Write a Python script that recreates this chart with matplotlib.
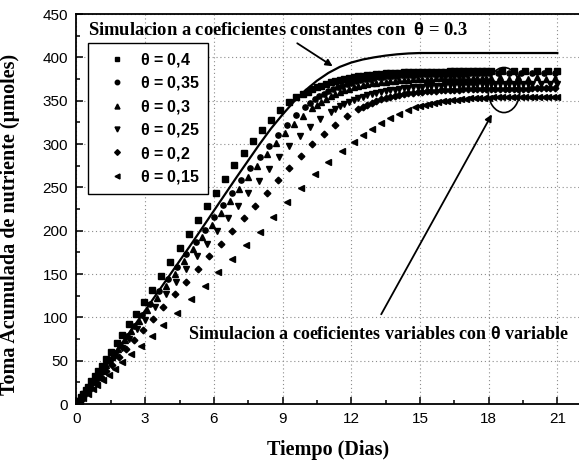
import matplotlib
matplotlib.use('Agg')
from matplotlib import pyplot as plt
from matplotlib.patches import Ellipse
from matplotlib.ticker import MultipleLocator

# Datos (Tiempo en dias, toma acumulada en umoles)
# Simulacion a coeficientes constantes, theta = 0.3
t_const = [0, 1, 2, 3, 4, 5, 6, 7, 8, 8.5, 9, 9.5, 10, 10.5, 11, 11.5, 12, 12.5, 13, 13.5, 14, 14.5, 15, 16, 21]
y_const = [0, 35, 71, 108, 146, 184, 223, 262, 300, 318, 334, 349, 362, 373, 382, 389, 394, 397.5, 400, 402, 403.5, 404.5, 405, 405, 405]

# theta = 0.4
t_040 = [0, 0.1, 0.2, 0.3, 0.4, 0.5, 0.65, 0.8, 0.95, 1.1, 1.3, 1.5, 1.75, 2.0, 2.3, 2.6, 2.95, 3.3, 3.7, 4.1,
         4.5, 4.9, 5.3, 5.7, 6.1, 6.5, 6.9, 7.3, 7.7, 8.1, 8.5, 8.9, 9.3, 9.6, 9.9,
         10.1, 10.3, 10.5, 10.7, 10.9, 11.1, 11.3, 11.5, 11.7, 11.9, 12.1, 12.3, 12.5, 12.7, 12.9, 13.1, 13.3,
         13.5, 13.7, 13.9, 14.1, 14.3, 14.5, 14.7, 14.9, 15.1, 15.3, 15.5, 15.7, 15.9, 16.1, 16.3, 16.5, 16.7,
         16.9, 17.1, 17.3, 17.5, 17.7, 17.9, 18.1, 18.6, 19.1, 19.6, 20.1, 20.6, 21.0]
y_040 = [0, 4, 8, 12, 16, 20, 26, 32, 38, 44, 52, 60, 70, 80, 92, 104, 118, 132, 148, 164,
         180, 196, 212, 228, 244, 260, 276, 290, 303, 316, 328, 339, 348, 354, 358,
         360.5, 363, 365.5, 367.5, 369.5, 371, 372.5, 374, 375, 376, 377, 378, 378.7, 379.4, 380, 380.5, 381,
         381.4, 381.8, 382.1, 382.4, 382.6, 382.8, 383, 383.1, 383.2, 383.3, 383.4, 383.5, 383.6, 383.6, 383.7,
         383.7, 383.8, 383.8, 383.9, 383.9, 384, 384, 384, 384, 384, 384, 384.1, 384.1, 384.1, 384.2]

# theta = 0.35
t_035 = [0, 0.1, 0.2, 0.3, 0.4, 0.55, 0.7, 0.85, 1.0, 1.2, 1.4, 1.65, 1.9, 2.2, 2.5, 2.85, 3.2, 3.6, 4.0, 4.4,
         4.8, 5.2, 5.6, 6.0, 6.4, 6.8, 7.2, 7.6, 8.0, 8.4, 8.8, 9.2, 9.6, 10.0,
         10.2, 10.4, 10.6, 10.8, 11.0, 11.2, 11.4, 11.6, 11.8, 12.0, 12.2, 12.4, 12.6, 12.8, 13.0, 13.2, 13.4,
         13.6, 13.8, 14.0, 14.2, 14.4, 14.6, 14.8, 15.0, 15.2, 15.4, 15.6, 15.8, 16.0, 16.2, 16.4, 16.6, 16.8,
         17.0, 17.2, 17.4, 17.6, 17.8, 18.0, 18.4, 18.9, 19.4, 19.9, 20.4, 20.9]
y_035 = [0, 3.6, 7.2, 10.8, 14.4, 20, 25, 31, 36, 43, 50, 59, 68, 79, 90, 103, 115, 130, 144, 158,
         173, 187, 201, 216, 230, 244, 258, 272, 285, 298, 310, 322, 333, 343,
         347.5, 351.5, 355, 358, 361, 363.5, 365.5, 367.5, 369.3, 370.8, 372.2, 373.4, 374.5, 375.4, 376.2,
         376.9, 377.5, 378, 378.5, 378.9, 379.3, 379.6, 379.9, 380.1, 380.3, 380.5, 380.7, 380.8, 380.9, 381,
         381.1, 381.2, 381.2, 381.3, 381.3, 381.4, 381.4, 381.5, 381.5, 381.5, 381.6, 381.6, 381.7, 381.7,
         381.8, 381.8]

# theta = 0.3
t_030 = [0, 0.1, 0.2, 0.3, 0.45, 0.6, 0.75, 0.9, 1.1, 1.3, 1.55, 1.8, 2.1, 2.4, 2.75, 3.1, 3.5, 3.9, 4.3, 4.7,
         5.1, 5.5, 5.9, 6.3, 6.7, 7.1, 7.5, 7.9, 8.3, 8.7, 9.1, 9.5, 9.9, 10.3,
         10.5, 10.7, 10.9, 11.1, 11.3, 11.5, 11.7, 11.9, 12.1, 12.3, 12.5, 12.7, 12.9, 13.1, 13.3, 13.5, 13.7,
         13.9, 14.1, 14.3, 14.5, 14.7, 14.9, 15.1, 15.3, 15.5, 15.7, 15.9, 16.1, 16.3, 16.5, 16.7, 16.9, 17.1,
         17.3, 17.5, 17.7, 17.9, 18.1, 18.5, 18.9, 19.3, 19.7, 20.1, 20.5, 20.9]
y_030 = [0, 3.5, 7, 10.5, 16, 21, 26, 31.5, 38.5, 45.5, 54, 63, 73.5, 84, 96, 108.5, 122.5, 136.5, 150.5, 164.5,
         178.5, 192.5, 206, 220, 234, 248, 261.5, 275, 288, 301, 312.5, 323, 332.5, 341,
         345, 348.5, 352, 355, 357.7, 360, 362, 363.8, 365.4, 366.8, 368, 369.1, 370, 370.8, 371.5, 372.1,
         372.7, 373.2, 373.6, 374, 374.3, 374.6, 374.9, 375.1, 375.3, 375.5, 375.6, 375.7, 375.8, 375.9, 376,
         376.1, 376.1, 376.2, 376.2, 376.3, 376.3, 376.4, 376.4, 377.5, 375, 377.5, 374.5, 377, 375, 376.5]

# theta = 0.25
t_025 = [0, 0.1, 0.2, 0.35, 0.5, 0.65, 0.8, 1.0, 1.2, 1.45, 1.7, 2.0, 2.3, 2.65, 3.0, 3.45, 3.9, 4.35, 4.8,
         5.25, 5.7, 6.15, 6.6, 7.05, 7.5, 7.95, 8.4, 8.85, 9.3, 9.75, 10.2, 10.65, 11.1,
         11.3, 11.5, 11.7, 11.9, 12.1, 12.3, 12.5, 12.7, 12.9, 13.1, 13.3, 13.5, 13.7, 13.9, 14.1, 14.3, 14.5,
         14.7, 14.9, 15.1, 15.3, 15.5, 15.7, 15.9, 16.1, 16.3, 16.5, 16.7, 16.9, 17.1, 17.3, 17.5, 17.7, 17.9,
         18.1, 18.3, 18.5, 18.7, 18.9, 19.1, 19.3, 19.5, 19.7, 19.9, 20.3, 20.7, 21.0]
y_025 = [0, 3.2, 6.5, 11.4, 16.2, 21, 26, 32.5, 39, 47, 55, 65, 75, 86, 97.5, 112, 127, 141, 156,
         170.5, 185, 200, 214.5, 229, 243.5, 257.5, 271.5, 285, 297.5, 309, 319.5, 329, 337,
         340.5, 343.5, 346.3, 348.8, 351, 353, 354.8, 356.4, 357.8, 359.1, 360.2, 361.2, 362.1, 362.9, 363.6,
         364.2, 364.8, 365.3, 365.7, 366.1, 366.5, 366.8, 367.1, 367.3, 367.6, 367.8, 368, 368.2, 368.3, 368.5,
         368.6, 368.7, 368.8, 368.9, 369, 369.1, 369.2, 369.2, 369.3, 369.3, 369.4, 369.4, 369.5, 369.5,
         369.6, 369.6, 369.7]

# theta = 0.2
t_020 = [0, 0.1, 0.2, 0.35, 0.5, 0.65, 0.85, 1.05, 1.3, 1.55, 1.85, 2.15, 2.5, 2.9, 3.35, 3.8, 4.3, 4.8, 5.3,
         5.8, 6.3, 6.8, 7.3, 7.8, 8.3, 8.8, 9.3, 9.8, 10.3, 10.8, 11.3, 11.8, 12.3,
         12.5, 12.7, 12.9, 13.1, 13.3, 13.5, 13.7, 13.9, 14.1, 14.3, 14.5, 14.7, 14.9, 15.1, 15.3, 15.5, 15.7,
         15.9, 16.1, 16.3, 16.5, 16.7, 16.9, 17.1, 17.3, 17.5, 17.7, 17.9, 18.1, 18.3, 18.5, 18.7, 18.9, 19.1,
         19.3, 19.5, 19.7, 19.9, 20.1, 20.3, 20.5, 20.7, 20.9]
y_020 = [0, 2.9, 5.9, 10.3, 14.7, 19, 25, 31, 38, 45.5, 54.5, 63, 73.5, 85, 98.5, 112, 126.5, 141, 156,
         170.5, 185, 200, 214.5, 229, 243.5, 258, 272.5, 286.5, 299.5, 311.5, 322.5, 332, 340,
         343, 345.5, 347.8, 349.8, 351.6, 353.2, 354.6, 355.8, 356.9, 357.8, 358.6, 359.3, 359.9, 360.4, 360.9,
         361.3, 361.7, 362, 362.3, 362.5, 362.7, 362.9, 363.1, 363.2, 363.3, 363.4, 363.5, 363.6, 363.7, 363.7,
         363.8, 363.8, 363.9, 363.9, 364, 364, 364, 364.1, 364.1, 364.1, 364.2, 364.2, 364.2]

# theta = 0.15
t_015 = [0, 0.15, 0.3, 0.5, 0.7, 0.9, 1.15, 1.4, 1.7, 2.0, 2.4, 2.8, 3.3, 3.8, 4.4, 5.0, 5.6, 6.2, 6.8, 7.4,
         8.0, 8.6, 9.2, 9.8, 10.4, 11.0, 11.6, 12.1, 12.5, 12.9, 13.3, 13.7, 14.1, 14.5,
         14.8, 15.0, 15.2, 15.4, 15.6, 15.8, 16.0, 16.2, 16.4, 16.6, 16.8, 17.0, 17.2, 17.4, 17.6, 17.8, 18.0,
         18.2, 18.4, 18.6, 18.8, 19.0, 19.2, 19.4, 19.6, 19.8, 20.0, 20.2, 20.4, 20.6, 20.8, 21.0]
y_015 = [0, 3.6, 7.2, 12, 16.8, 21.6, 27.6, 33.6, 40.8, 48, 57.6, 67, 79, 91, 105.5, 121, 136.5, 152, 167.5, 183,
         199, 216, 233, 249, 265, 279, 292, 302, 310, 317.5, 324, 330, 335, 339.5,
         342.5, 344, 345.4, 346.6, 347.7, 348.6, 349.4, 350.1, 350.7, 351.3, 351.8, 352.2, 352.6, 352.9, 353.2,
         353.4, 353.6, 353.8, 354, 354.1, 354.2, 354.3, 354.4, 354.5, 354.5, 354.6, 354.6, 354.7, 354.7, 354.7,
         354.8, 354.8]

series = [
    (t_040, y_040, 's', 3.8, r'$\mathbf{\theta}$ = 0,4'),
    (t_035, y_035, 'o', 3.8, r'$\mathbf{\theta}$ = 0,35'),
    (t_030, y_030, '^', 4.2, r'$\mathbf{\theta}$ = 0,3'),
    (t_025, y_025, 'v', 4.2, r'$\mathbf{\theta}$ = 0,25'),
    (t_020, y_020, 'D', 3.4, r'$\mathbf{\theta}$ = 0,2'),
    (t_015, y_015, '<', 4.2, r'$\mathbf{\theta}$ = 0,15'),
]

plt.rcParams['mathtext.fontset'] = 'custom'
plt.rcParams['mathtext.bf'] = 'Liberation Sans:bold'
plt.rcParams['mathtext.rm'] = 'Liberation Sans'

fig = plt.figure(figsize=(5.79, 4.61), dpi=100)
ax = fig.add_axes([0.1321, 0.1236, 0.868, 0.846])

for t, y, mk, ms, lab in series:
    ax.plot(t, y, ls='none', marker=mk, ms=ms, color='k', mec='k', label=lab)

ax.plot(t_const, y_const, color='k', lw=1.6)

ax.set_xlim(0, 21.95)
ax.set_ylim(0, 450)
ax.xaxis.set_major_locator(MultipleLocator(3))
ax.xaxis.set_minor_locator(MultipleLocator(1.5))
ax.yaxis.set_major_locator(MultipleLocator(50))
ax.yaxis.set_minor_locator(MultipleLocator(25))
ax.tick_params(which='both', direction='in', color='k', width=1.1)
ax.tick_params(which='major', length=5, labelsize=11, pad=6)
ax.tick_params(which='minor', length=3)
for lbl in ax.get_xticklabels() + ax.get_yticklabels():
    lbl.set_fontfamily('Liberation Sans')
ax.grid(True, which='major', ls=(0, (1, 2.5)), color='0.55', lw=0.8)
ax.spines['right'].set_visible(False)
for s in ['left', 'bottom', 'top']:
    ax.spines[s].set_linewidth(1.3)

ax.set_xlabel('Tiempo (Dias)', family='Liberation Serif', weight='bold', fontsize=14.5, labelpad=10)
ax.set_ylabel('Toma Acumulada de nutriente (µmoles)', family='Liberation Serif', weight='bold',
              fontsize=14.5)
ax.yaxis.set_label_coords(-0.113, 0.46)

leg = ax.legend(loc='upper left', bbox_to_anchor=(0.023, 0.926), borderaxespad=0, numpoints=1,
                handlelength=2.6, handletextpad=0.15, labelspacing=0.34, borderpad=0.5,
                fancybox=False, framealpha=1, edgecolor='k', markerscale=0.85,
                prop={'family': 'Liberation Sans', 'weight': 'bold', 'size': 11.5})
leg.get_frame().set_linewidth(1.0)

ax.text(0.5, 425.5, r'Simulacion a coeficientes constantes con  $\mathbf{\theta}$ = 0.3',
        family='Liberation Serif', weight='bold', fontsize=13.3, va='baseline')
ax.text(4.87, 75, r'Simulacion a coeficientes variables con $\mathbf{\theta}$ variable',
        family='Liberation Serif', weight='bold', fontsize=13.0, va='baseline')

ax.annotate('', xy=(11.29, 388), xytext=(9.54, 418),
            arrowprops=dict(arrowstyle='-|>', lw=1.3, color='k', mutation_scale=10))
ax.annotate('', xy=(18.2, 337), xytext=(13.25, 100.7),
            arrowprops=dict(arrowstyle='-|>', lw=1.3, color='k', mutation_scale=10))
ax.add_patch(Ellipse((18.67, 362.3), 1.4, 52, fill=False, lw=1.2, color='k'))

plt.savefig('out.png', dpi=100)
